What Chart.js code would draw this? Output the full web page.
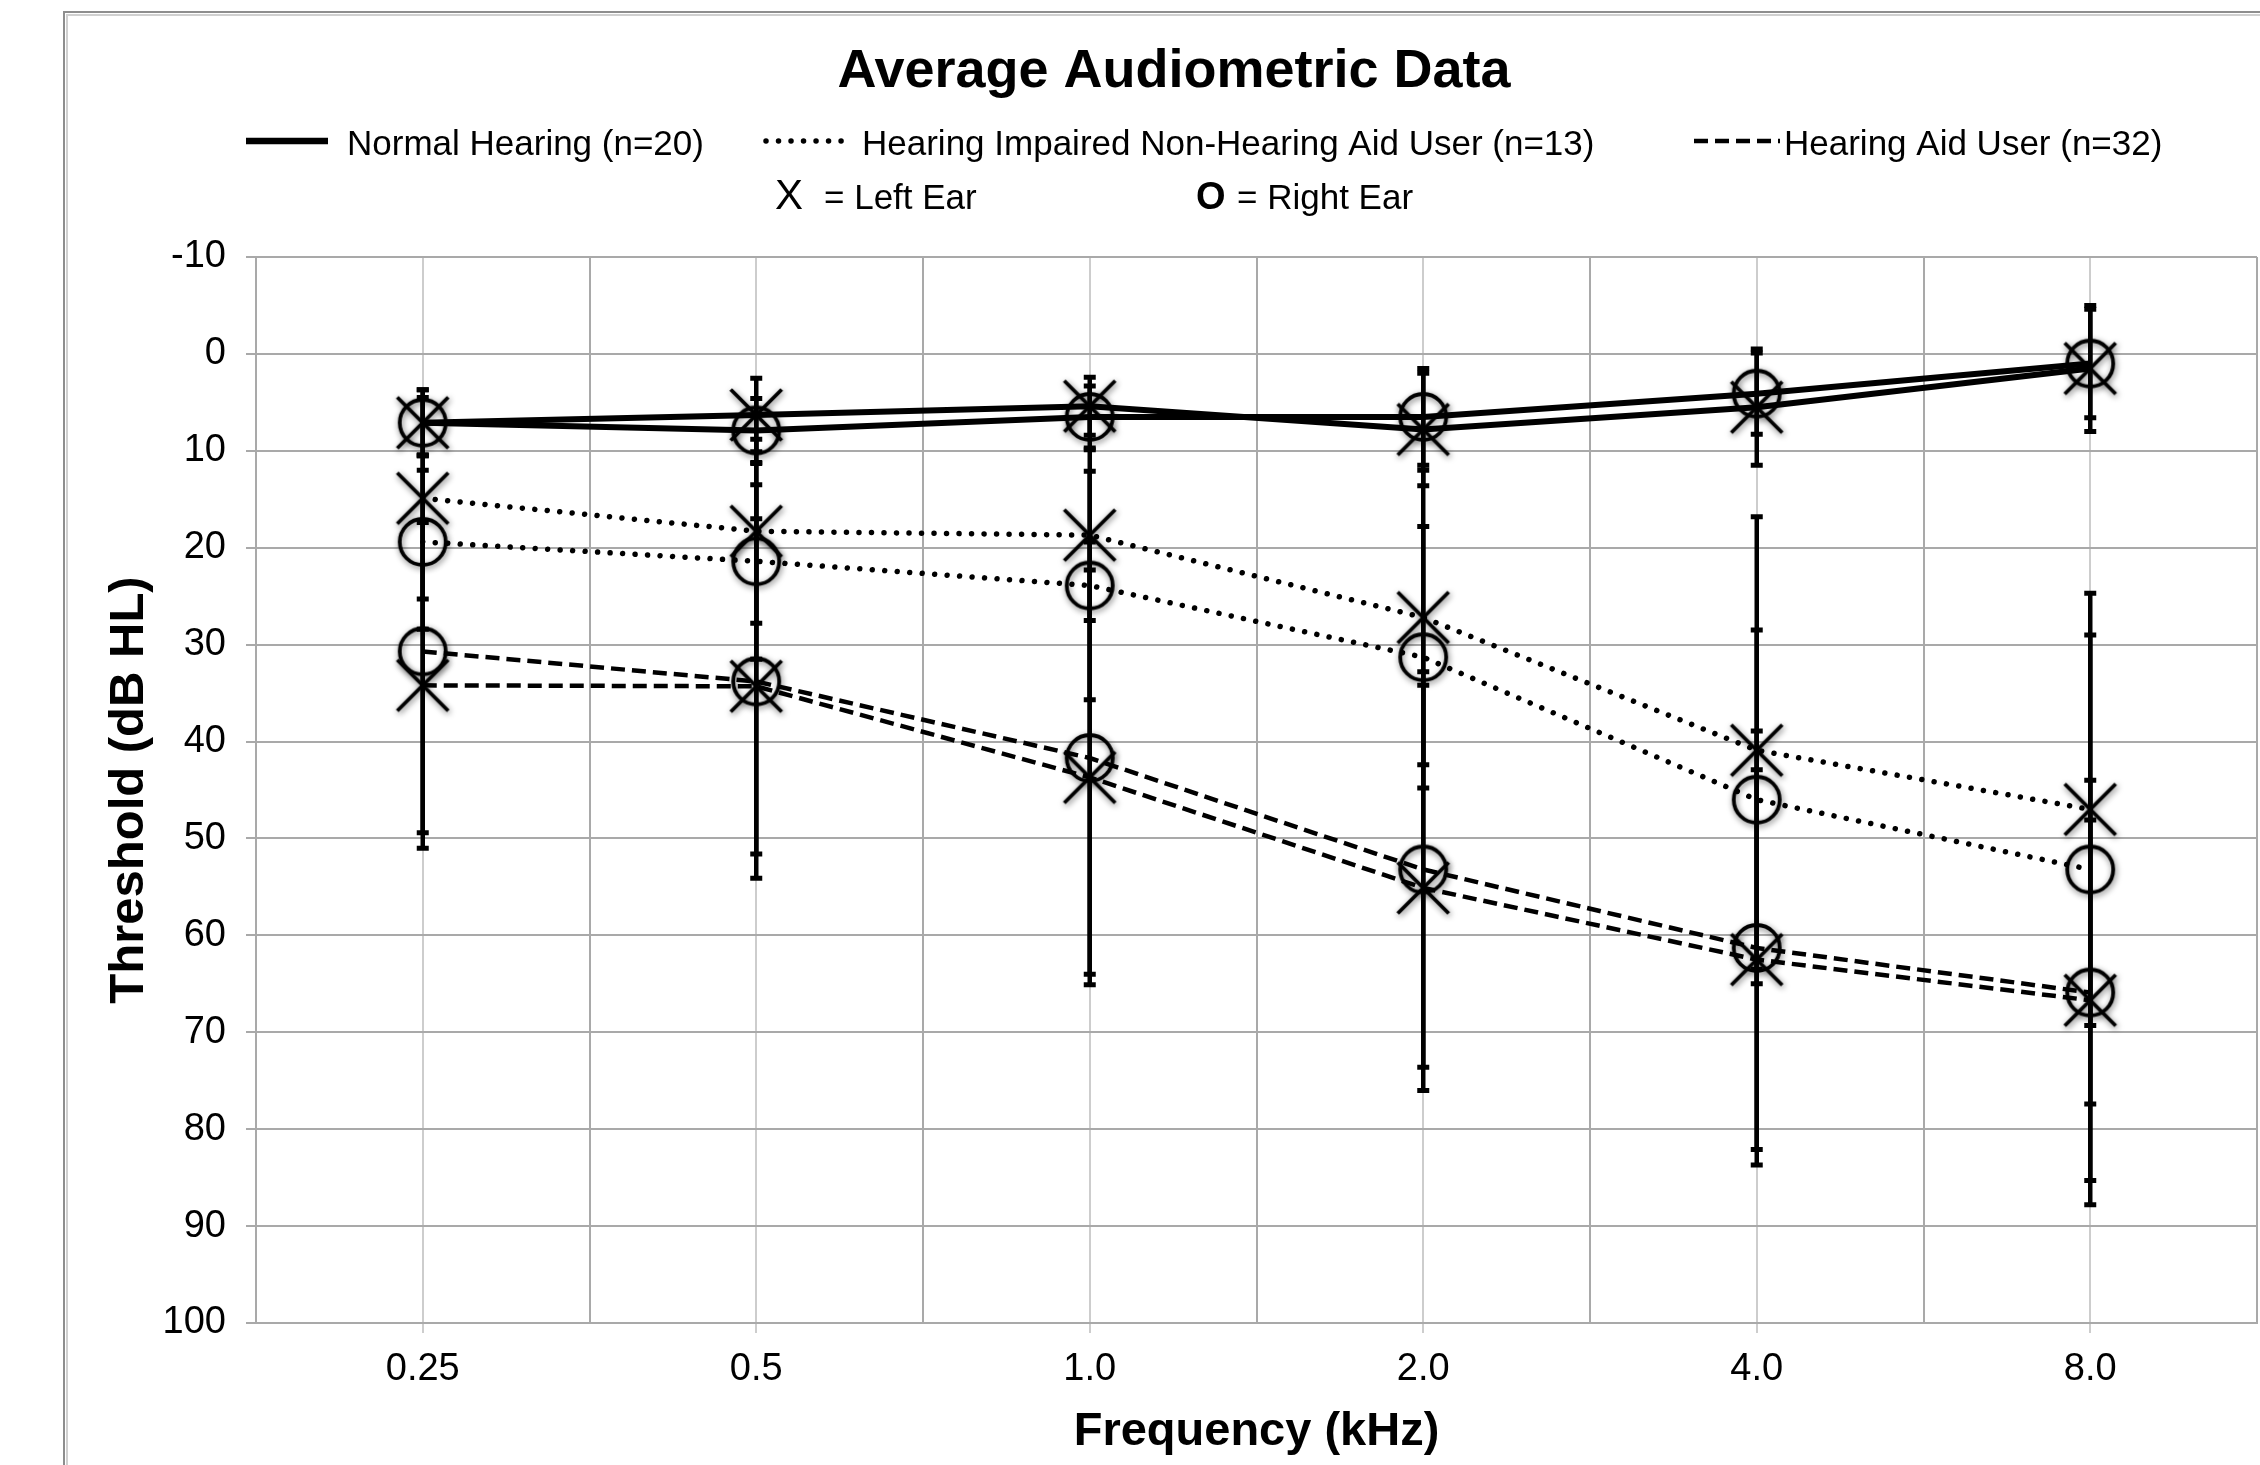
<!DOCTYPE html>
<html>
<head>
<meta charset="utf-8">
<title>Average Audiometric Data</title>
<script src="https://cdn.jsdelivr.net/npm/chart.js@4.4.1/dist/chart.umd.min.js"></script>
<style>
  html, body { margin: 0; padding: 0; background: #fff; }
  canvas { display: block; }
</style>
</head>
<body>
<canvas id="audiogram" width="2260" height="1465"></canvas>
<script>
// ----- data (dB HL) -----
const FREQUENCIES = ['0.25', '0.5', '1.0', '2.0', '4.0', '8.0'];
const Y_MIN = -10;
const Y_MAX = 100;
const Y_STEP = 10;

// Normal hearing (n=20)
const NH_LEFT = [7.1, 6.3, 5.4, 7.8, 5.5, 1.5];
const NH_LEFT_SD = [3.4, 3.8, 3.0, 5.8, 6.0, 6.5];
const NH_RIGHT = [7.1, 7.9, 6.5, 6.5, 4.1, 1.0];
const NH_RIGHT_SD = [3.4, 3.3, 3.2, 5.0, 4.2, 5.6];

// Hearing impaired, non-hearing aid user (n=13)
const HI_LEFT = [14.9, 18.3, 18.7, 27.2, 40.9, 47.0];
const HI_LEFT_SD = [10.4, 9.5, 8.8, 15.2, 24.1, 22.3];
const HI_RIGHT = [19.4, 21.4, 23.9, 31.3, 46.0, 53.2];
const HI_RIGHT_SD = [9.0, 10.1, 11.8, 13.5, 17.5, 24.2];

// Hearing aid user (n=32)
const HA_LEFT = [34.2, 34.3, 43.7, 55.1, 62.5, 66.7];
const HA_LEFT_SD = [16.8, 17.3, 21.4, 20.9, 19.6, 18.6];
const HA_RIGHT = [30.7, 33.8, 41.7, 53.2, 61.3, 65.9];
const HA_RIGHT_SD = [18.7, 20.3, 22.3, 20.4, 22.4, 21.9];

const FONT = "'Liberation Sans', Arial, Helvetica, sans-serif";
const GRID = '#a9a9a9';
const GRID_LIGHT = '#cdcdcd';

// line styles per group
const STYLES = {
  solid:  { borderWidth: 6,   borderDash: [],          borderCapStyle: 'butt' },
  dotted: { borderWidth: 5.5, borderDash: [0.01, 12.5], borderCapStyle: 'round' },
  dashed: { borderWidth: 4.5, borderDash: [14, 7],     borderCapStyle: 'butt' }
};

// X / O symbols with the soft shadow of the original
function markerImage(kind) {
  const size = 84;
  const c = document.createElement('canvas');
  c.width = c.height = size;
  const g = c.getContext('2d');
  const m = size / 2;
  g.strokeStyle = '#000';
  g.lineWidth = 3.8;
  g.shadowColor = 'rgba(0,0,0,0.55)';
  g.shadowBlur = 6;
  g.shadowOffsetX = 1;
  g.shadowOffsetY = 2;
  g.beginPath();
  if (kind === 'x') {
    const h = 25.5;
    g.moveTo(m - h, m - h); g.lineTo(m + h, m + h);
    g.moveTo(m + h, m - h); g.lineTo(m - h, m + h);
  } else {
    g.arc(m, m, 23, 0, Math.PI * 2);
  }
  g.stroke();
  return c;
}
const X_MARK = markerImage('x');
const O_MARK = markerImage('o');

function series(label, values, sd, style, ear) {
  return Object.assign({
    label: label,
    data: values.map((v, i) => ({ x: i, y: v })),
    errors: sd,
    borderColor: '#000',
    backgroundColor: 'rgba(0,0,0,0)',
    tension: 0,
    fill: false,
    pointStyle: ear === 'left' ? X_MARK : O_MARK,
    pointRadius: 25
  }, STYLES[style]);
}

const datasets = [
  series('Normal Hearing - Left', NH_LEFT, NH_LEFT_SD, 'solid', 'left'),
  series('Normal Hearing - Right', NH_RIGHT, NH_RIGHT_SD, 'solid', 'right'),
  series('HI Non-HA - Left', HI_LEFT, HI_LEFT_SD, 'dotted', 'left'),
  series('HI Non-HA - Right', HI_RIGHT, HI_RIGHT_SD, 'dotted', 'right'),
  series('Hearing Aid - Left', HA_LEFT, HA_LEFT_SD, 'dashed', 'left'),
  series('Hearing Aid - Right', HA_RIGHT, HA_RIGHT_SD, 'dashed', 'right')
];

// white page + grey frame of the original figure
const frame = {
  id: 'frame',
  beforeDraw(chart) {
    const { ctx, width, height } = chart;
    ctx.save();
    ctx.fillStyle = '#fff';
    ctx.fillRect(0, 0, width, height);
    ctx.strokeStyle = '#8e8e8e';
    ctx.lineWidth = 2;
    ctx.beginPath();
    ctx.moveTo(64, height);
    ctx.lineTo(64, 12);
    ctx.lineTo(width, 12);
    ctx.stroke();
    ctx.strokeStyle = '#d0d0d0';
    ctx.beginPath();
    ctx.moveTo(67, height);
    ctx.lineTo(67, 15);
    ctx.lineTo(width, 15);
    ctx.stroke();
    ctx.restore();
  }
};

// +/- 1 SD error bars, drawn on the chart scales
const errorBars = {
  id: 'errorBars',
  afterDatasetsDraw(chart) {
    const { ctx, scales: { x, y } } = chart;
    ctx.save();
    ctx.strokeStyle = '#000';
    ctx.setLineDash([]);
    chart.data.datasets.forEach(ds => {
      ds.data.forEach((p, i) => {
        const sd = ds.errors[i];
        const px = x.getPixelForValue(p.x);
        const top = y.getPixelForValue(p.y - sd);
        const bot = y.getPixelForValue(p.y + sd);
        ctx.lineWidth = 4.5;
        ctx.beginPath();
        ctx.moveTo(px, top);
        ctx.lineTo(px, bot);
        ctx.stroke();
        ctx.lineWidth = 5;
        ctx.beginPath();
        ctx.moveTo(px - 6, top);
        ctx.lineTo(px + 6, top);
        ctx.moveTo(px - 6, bot);
        ctx.lineTo(px + 6, bot);
        ctx.stroke();
      });
    });
    ctx.restore();
  }
};

// title and the two-row legend
const header = {
  id: 'header',
  afterDraw(chart) {
    const { ctx } = chart;
    ctx.save();
    ctx.fillStyle = '#000';
    ctx.textBaseline = 'alphabetic';

    ctx.font = 'bold 54px ' + FONT;
    ctx.textAlign = 'center';
    ctx.fillText('Average Audiometric Data', 1174, 87);

    ctx.textAlign = 'left';
    ctx.font = '35px ' + FONT;
    const rowY = 141;
    const samples = [
      { x0: 766, x1: 852, style: 'dotted', text: 'Hearing Impaired Non-Hearing Aid User (n=13)', tx: 862 },
      { x0: 246, x1: 328, style: 'solid', text: 'Normal Hearing (n=20)', tx: 347 },
      { x0: 1694, x1: 1780, style: 'dashed', text: 'Hearing Aid User (n=32)', tx: 1784 }
    ];
    samples.forEach(s => {
      const st = STYLES[s.style];
      ctx.strokeStyle = '#000';
      ctx.lineWidth = s.style === 'solid' ? 6.5 : st.borderWidth;
      ctx.lineCap = st.borderCapStyle;
      ctx.setLineDash(st.borderDash);
      ctx.beginPath();
      ctx.moveTo(s.x0, rowY);
      ctx.lineTo(s.x1, rowY);
      ctx.stroke();
      ctx.setLineDash([]);
      ctx.fillText(s.text, s.tx, 155);
    });

    const row2 = 209;
    ctx.font = '42px ' + FONT;
    ctx.fillText('X', 775, row2);
    ctx.font = '35px ' + FONT;
    ctx.fillText('= Left Ear', 824, row2);
    ctx.font = 'bold 38px ' + FONT;
    ctx.fillText('O', 1196, row2);
    ctx.font = '35px ' + FONT;
    ctx.fillText('= Right Ear', 1237, row2);
    ctx.restore();
  }
};

Chart.defaults.font.family = FONT;
Chart.defaults.color = '#000';

new Chart(document.getElementById('audiogram'), {
  type: 'line',
  data: { datasets: datasets },
  plugins: [frame, errorBars, header],
  options: {
    responsive: false,
    animation: false,
    devicePixelRatio: 1,
    layout: {
      autoPadding: false,
      padding: { top: 257, right: 3, bottom: 0, left: 0 }
    },
    plugins: {
      legend: { display: false },
      title: { display: false },
      tooltip: { enabled: false }
    },
    scales: {
      x: {
        type: 'linear',
        min: -0.5,
        max: FREQUENCIES.length - 0.5,
        afterFit: s => {
          s.height = 142;
          s.paddingLeft = 0;
          s.paddingRight = 0;
        },
        border: { color: GRID, width: 2 },
        grid: {
          lineWidth: 2,
          tickLength: 10,
          color: c => Number.isInteger(c.tick.value) ? GRID_LIGHT : GRID,
          tickColor: c => Number.isInteger(c.tick.value) ? GRID_LIGHT : 'rgba(0,0,0,0)'
        },
        ticks: {
          stepSize: 0.5,
          autoSkip: false,
          maxRotation: 0,
          padding: 14,
          font: { size: 38 },
          callback: v => Number.isInteger(v) ? FREQUENCIES[v] : ''
        },
        title: {
          display: true,
          text: 'Frequency (kHz)',
          font: { size: 47, weight: 'bold' },
          padding: { top: 0, bottom: 5 }
        }
      },
      y: {
        reverse: true,
        min: Y_MIN,
        max: Y_MAX,
        afterFit: s => { s.width = 256; },
        border: { color: GRID, width: 2 },
        grid: { color: GRID, lineWidth: 2, tickLength: 10, tickColor: GRID },
        ticks: {
          stepSize: Y_STEP,
          padding: 20,
          font: { size: 38 }
        },
        title: {
          display: true,
          text: 'Threshold (dB HL)',
          font: { size: 49, weight: 'bold' },
          padding: { top: 100, bottom: 0 }
        }
      }
    }
  }
});
</script>
</body>
</html>
